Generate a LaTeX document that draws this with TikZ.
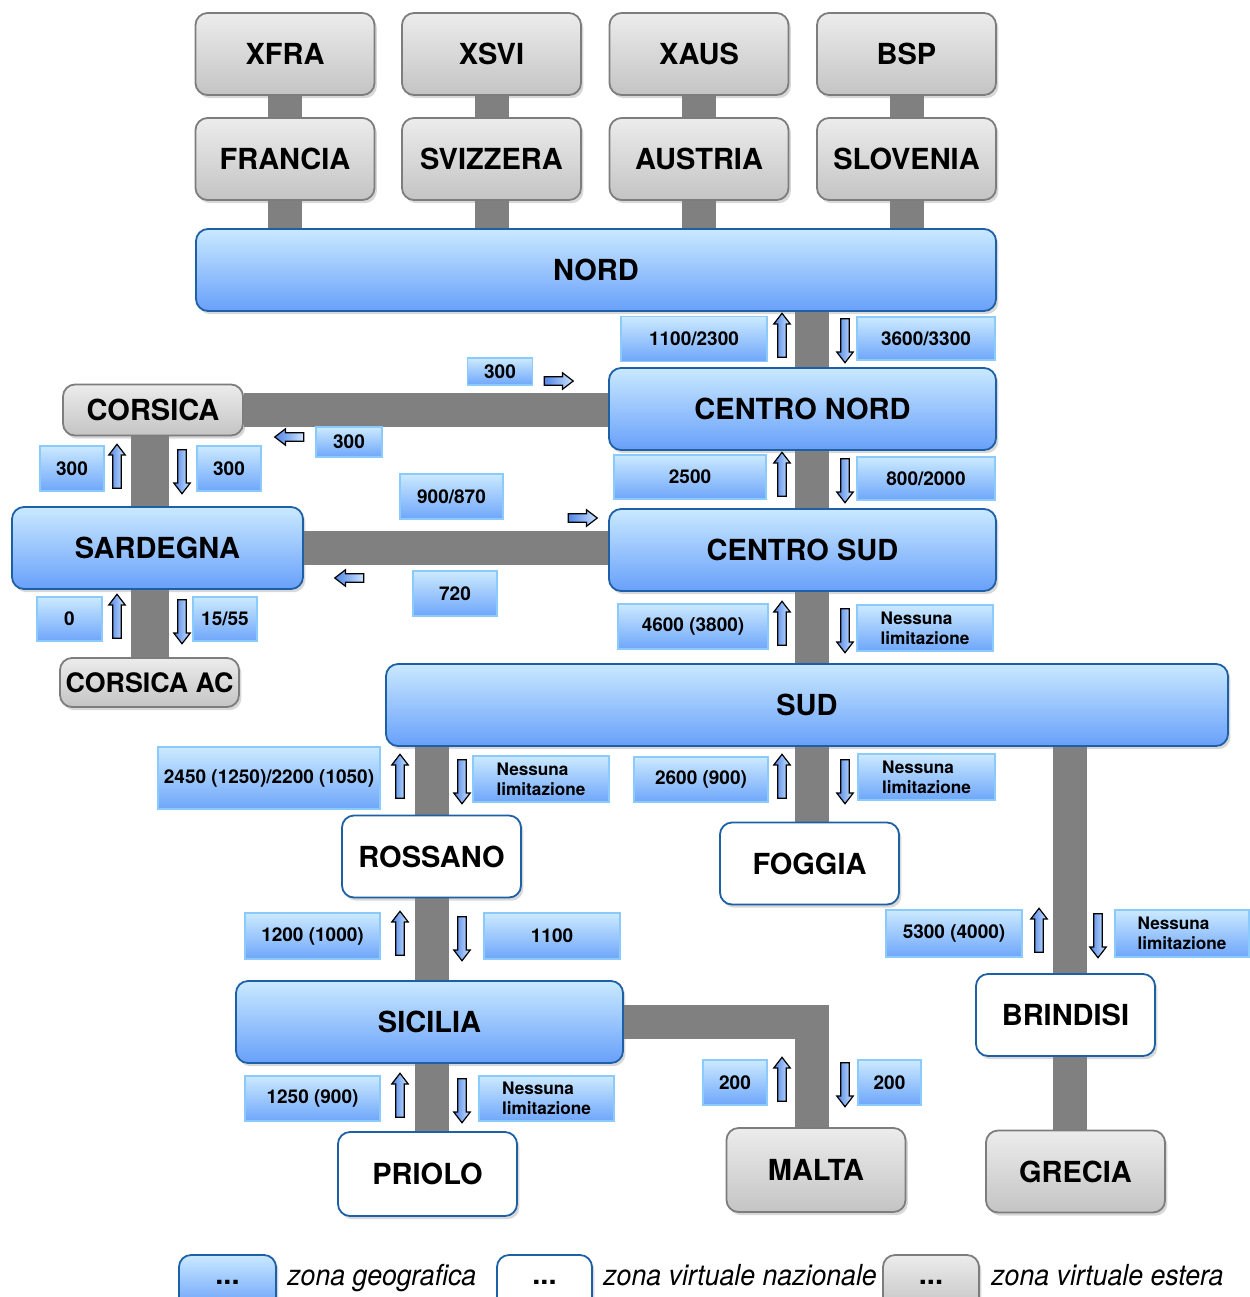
\documentclass[tikz,border=0pt]{standalone}
\usepackage{fontspec}
\setmainfont{TeX Gyre Heros}
\newfontfamily\legfont[FakeStretch=0.92]{TeX Gyre Heros}
\usetikzlibrary{shapes.arrows,shadows,backgrounds}
\definecolor{zonetop}{RGB}{202,233,255}
\definecolor{zonebot}{RGB}{104,160,250}
\definecolor{zoneline}{RGB}{30,96,166}
\definecolor{esttop}{RGB}{236,236,236}
\definecolor{estbot}{RGB}{196,196,196}
\definecolor{estline}{RGB}{125,125,125}
\definecolor{valtop}{RGB}{204,234,255}
\definecolor{valbot}{RGB}{110,166,250}
\definecolor{valline}{RGB}{138,202,252}
\definecolor{barcol}{RGB}{128,128,128}
\definecolor{arrtail}{RGB}{80,132,230}
\definecolor{arrhead}{RGB}{205,230,255}

\begin{document}
\begin{tikzpicture}
  [x=0.5pt,y=-0.5pt,
   box/.style={rounded corners=6pt,line width=0.9pt,minimum width=89.5pt,minimum height=41pt,
     inner sep=1pt,font=\bfseries\fontsize{14.5}{17}\selectfont,
     drop shadow={shadow xshift=1.2pt,shadow yshift=-1.6pt,opacity=0.3}},
   zone/.style={box,draw=zoneline,top color=zonetop,bottom color=zonebot},
   virt/.style={box,draw=zoneline,fill=white},
   est/.style={box,draw=estline,top color=esttop,bottom color=estbot},
   val/.style={draw=valline,line width=0.8pt,top color=valtop,bottom color=valbot,
     inner sep=0pt,minimum height=22.5pt,font=\bfseries\fontsize{9.5}{11}\selectfont},
   nota/.style={val,align=left,font=\bfseries\fontsize{8.6}{10}\selectfont},
   flow/.style={single arrow,draw=black,line width=0.6pt,left color=arrtail,right color=arrhead,
     inner sep=1.8pt,single arrow head extend=2pt,single arrow tip angle=75,minimum height=22pt},
   fsu/.style={flow,rotate=90},
   fgiu/.style={flow,rotate=-90},
   fdx/.style={flow,minimum height=14.5pt},
   fsx/.style={flow,minimum height=14.5pt,rotate=180},
   bar/.style={barcol,line width=17pt},
   legtext/.style={anchor=base west,inner sep=0pt,font=\legfont\itshape\fontsize{14.5}{17}\selectfont}]
  \useasboundingbox (0,0) rectangle (1249,1297);

  % zone
  \node[est] (xfra) at (285,54) {XFRA};
  \node[est] (xsvi) at (491.5,54) {XSVI};
  \node[est] (xaus) at (699,54) {XAUS};
  \node[est] (bsp) at (906.5,54) {BSP};
  \node[est] (francia) at (285,159) {FRANCIA};
  \node[est] (svizzera) at (491.5,159) {SVIZZERA};
  \node[est] (austria) at (699,159) {AUSTRIA};
  \node[est] (slovenia) at (906.5,159) {SLOVENIA};
  \node[zone,minimum width=400pt] (nord) at (596,270) {NORD};
  \node[zone,minimum width=193.5pt] (cnord) at (802.5,409) {CENTRO NORD};
  \node[est,minimum width=90pt,minimum height=25.5pt] (corsica) at (153,410) {CORSICA};
  \node[zone,minimum width=145.5pt] (sardegna) at (157.5,548) {SARDEGNA};
  \node[zone,minimum width=193.5pt] (csud) at (802.5,550) {CENTRO SUD};
  \node[est,minimum height=24.5pt,font=\bfseries\fontsize{13.4}{16}\selectfont] (corsicaac) at (149.5,682.5) {CORSICA AC};
  \node[zone,minimum width=421pt] (sud) at (807,705) {SUD};
  \node[virt] (rossano) at (431.5,856.5) {ROSSANO};
  \node[virt] (foggia) at (809.5,863.5) {FOGGIA};
  \node[virt] (brindisi) at (1065.5,1015) {BRINDISI};
  \node[zone,minimum width=193.5pt] (sicilia) at (429.5,1022) {SICILIA};
  \node[virt,minimum height=42pt] (priolo) at (427.5,1174) {PRIOLO};
  \node[est,minimum height=42pt] (malta) at (816,1170) {MALTA};
  \node[est] (grecia) at (1075.5,1171.5) {GRECIA};

  \coordinate (trunk) at (812,0);
  \coordinate (ovest) at (150,0);
  \coordinate (colest) at (1070,0);

  % collegamenti
  \begin{scope}[on background layer]
    \fill[white] (0,0) rectangle (1249,1297);
    \foreach \a/\b in {xfra/francia,xsvi/svizzera,xaus/austria,bsp/slovenia}
      \draw[bar] (\a) -- (\b) -- (\b |- nord);
    \draw[bar] (nord -| trunk) -- (foggia -| trunk);
    \draw[bar] (corsica) -- (corsica -| cnord);
    \draw[bar] (sardegna) -- (sardegna -| csud);
    \draw[bar,line width=19pt] (corsica -| ovest) -- (corsicaac -| ovest);
    \draw[bar] (rossano |- sud) -- (rossano |- priolo);
    \draw[bar] (sud -| colest) -- (grecia -| colest);
    \draw[bar] (sicilia) -- (sicilia -| trunk) -- (malta -| trunk);
  \end{scope}

  % limiti di transito
  \node[val,minimum width=73pt] (l1) at (694,339) {1100/2300};
  \node[val,minimum width=69pt,minimum height=21.5pt] (l2) at (926,338.5) {3600/3300};
  \node[val,minimum width=32.5pt,minimum height=13.5pt] (l3) at (500,371.5) {300};
  \node[val,minimum width=33pt,minimum height=15pt] (l4) at (349,442) {300};
  \node[val,minimum width=32pt] (l5) at (72,468.5) {300};
  \node[val,minimum width=32pt] (l6) at (229,468.5) {300};
  \node[val,minimum width=76pt,minimum height=22pt] (l7) at (690,477) {2500};
  \node[val,minimum width=69pt,minimum height=21.5pt] (l8) at (926,478.5) {800/2000};
  \node[val,minimum width=51.5pt] (l9) at (451.5,496.5) {900/870};
  \node[val,minimum width=42pt] (l10) at (455,593.5) {720};
  \node[val,minimum width=32.5pt,minimum height=22pt] (l11) at (69.5,619) {0};
  \node[val,minimum width=32pt,minimum height=22pt] (l12) at (225,619) {15/55};
  \node[val,minimum width=75pt] (l13) at (693,626.5) {4600 (3800)};
  \node[nota,minimum width=68pt,minimum height=23pt] (l14) at (925,628) {Nessuna\\limitazione};
  \node[val,minimum width=111pt,minimum height=31pt] (l15) at (269,778) {2450 (1250)/2200 (1050)};
  \node[nota,minimum width=68pt,minimum height=23pt] (l16) at (541,779) {Nessuna\\limitazione};
  \node[val,minimum width=67pt] (l17) at (701,779.5) {2600 (900)};
  \node[nota,minimum width=68.5pt,minimum height=23pt] (l18) at (926.5,777) {Nessuna\\limitazione};
  \node[val,minimum width=68pt,minimum height=23.5pt] (l19) at (954,933.5) {5300 (4000)};
  \node[nota,minimum width=67pt,minimum height=23.5pt] (l20) at (1182,933.5) {Nessuna\\limitazione};
  \node[val,minimum width=67.5pt,minimum height=23pt] (l21) at (312.5,936) {1200 (1000)};
  \node[val,minimum width=68pt,minimum height=23pt] (l22) at (552,936) {1100};
  \node[val,minimum width=67.5pt] (l23) at (312.5,1098.5) {1250 (900)};
  \node[nota,minimum width=67.5pt] (l24) at (546.5,1098.5) {Nessuna\\limitazione};
  \node[val,minimum width=32pt] (l25) at (735,1082.5) {200};
  \node[val,minimum width=31.5pt] (l26) at (889.5,1082.5) {200};

  % frecce
  \node[fsu] (f1) at (782,338) {};
  \node[fgiu] (f2) at (845,338) {};
  \node[fsu] (f3) at (782,477) {};
  \node[fgiu] (f4) at (845,478) {};
  \node[fsu] (f5) at (117,469) {};
  \node[fgiu] (f6) at (182,469) {};
  \node[fsu] (f7) at (117,619) {};
  \node[fgiu] (f8) at (182,619) {};
  \node[fsu] (f9) at (782,626) {};
  \node[fgiu] (f10) at (845,628) {};
  \node[fsu] (f11) at (400,779) {};
  \node[fgiu] (f12) at (462,779) {};
  \node[fsu] (f13) at (782,779) {};
  \node[fgiu] (f14) at (845,779) {};
  \node[fsu] (f15) at (1039,933) {};
  \node[fgiu] (f16) at (1098,933) {};
  \node[fsu] (f17) at (400,936) {};
  \node[fgiu] (f18) at (462,936) {};
  \node[fsu] (f19) at (400,1098) {};
  \node[fgiu] (f20) at (462,1098) {};
  \node[fsu] (f21) at (782,1082) {};
  \node[fgiu] (f22) at (845,1082) {};
  \node[fdx] (f23) at (556,381) {};
  \node[fsx] (f24) at (292,437) {};
  \node[fdx] (f25) at (580,518) {};
  \node[fsx] (f26) at (352,578) {};

  % legenda
  \node[zone,minimum width=48.5pt,minimum height=27pt] (leg1) at (227.5,1282) {...};
  \node[legtext] (legt1) at (287,1285) {zona geografica};
  \node[virt,minimum width=47.5pt,minimum height=27pt] (leg2) at (544.5,1282) {...};
  \node[legtext] (legt2) at (603,1285) {zona virtuale nazionale};
  \node[est,minimum width=48pt,minimum height=27pt] (leg3) at (931,1282) {...};
  \node[legtext] (legt3) at (991,1285) {zona virtuale estera};
\end{tikzpicture}
\end{document}
